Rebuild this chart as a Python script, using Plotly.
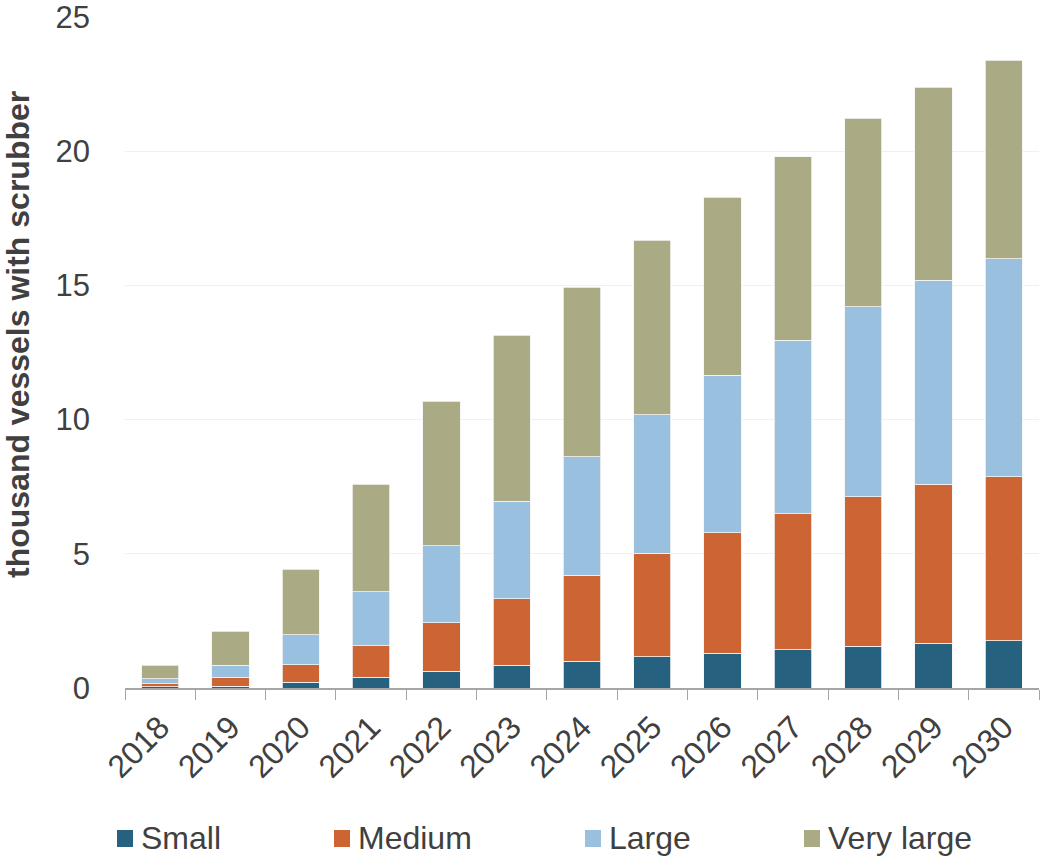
import plotly.graph_objects as go

# Fleet of ships fitted with exhaust gas scrubbers, thousand vessels, by size class
years = ["2018", "2019", "2020", "2021", "2022", "2023", "2024",
         "2025", "2026", "2027", "2028", "2029", "2030"]
small = [0.04, 0.07, 0.21, 0.41, 0.62, 0.84, 0.99, 1.16, 1.30, 1.43, 1.55, 1.66, 1.76]
medium = [0.12, 0.33, 0.65, 1.17, 1.82, 2.49, 3.21, 3.86, 4.49, 5.06, 5.58, 5.93, 6.11]
large = [0.18, 0.44, 1.12, 2.00, 2.86, 3.63, 4.42, 5.17, 5.86, 6.47, 7.07, 7.60, 8.12]
very_large = [0.50, 1.27, 2.45, 4.01, 5.39, 6.19, 6.31, 6.50, 6.64, 6.84, 7.02, 7.19, 7.40]

series_names = ["Small", "Medium", "Large", "Very large"]
series_values = [small, medium, large, very_large]
series_colors = ["#26617F", "#CD6434", "#9AC0E0", "#AAAA84"]

y_ticks = [0, 5, 10, 15, 20, 25]

FONT = "Liberation Sans, Arial, sans-serif"
TEXT_COLOR = "#404040"

W, H = 1040, 856
M_L, M_R, M_T, M_B = 125, 1, 17, 168
PLOT_W = W - M_L - M_R
PLOT_H = H - M_T - M_B


def px_to_paper(px, py):
    return (px - M_L) / PLOT_W, (H - M_B - py) / PLOT_H


fig = go.Figure()
for name, vals, color in zip(series_names, series_values, series_colors):
    fig.add_trace(go.Bar(
        x=years, y=vals, name=name,
        marker=dict(color=color, line=dict(color="#F4F4F4", width=0.8)),
        showlegend=False,
    ))

# Legend drawn as swatches plus labels along the bottom
legend_swatch_x = [117, 334, 585, 804]
for name, color, sx in zip(series_names, series_colors, legend_swatch_x):
    x0, y0 = px_to_paper(sx, 847)
    x1, y1 = px_to_paper(sx + 16, 830)
    fig.add_shape(type="rect", xref="paper", yref="paper",
                  x0=x0, x1=x1, y0=y0, y1=y1,
                  fillcolor=color, line=dict(width=0))
    tx, ty = px_to_paper(sx + 22, 838)
    fig.add_annotation(xref="paper", yref="paper", x=tx, y=ty,
                       text=name, showarrow=False,
                       xanchor="left", yanchor="middle",
                       font=dict(family=FONT, size=32, color=TEXT_COLOR))

# Y axis title
tx, ty = px_to_paper(18, 335)
fig.add_annotation(xref="paper", yref="paper", x=tx, y=ty,
                   text="<b>thousand vessels with scrubber</b>",
                   textangle=-90, showarrow=False,
                   xanchor="center", yanchor="middle",
                   font=dict(family=FONT, size=32, color=TEXT_COLOR))

fig.update_layout(
    barmode="stack",
    bargap=0.47,
    width=W, height=H,
    margin=dict(l=M_L, r=M_R, t=M_T, b=M_B),
    paper_bgcolor="white",
    plot_bgcolor="white",
    font=dict(family=FONT, size=32, color=TEXT_COLOR),
    xaxis=dict(
        type="category",
        tickangle=-45,
        ticks="outside", tickson="boundaries",
        ticklen=10, tickwidth=1.2, tickcolor="#A6A6A6",
        showline=True, linecolor="#A6A6A6", linewidth=1.5,
        showgrid=False,
        ticklabelstandoff=6,
        tickfont=dict(family=FONT, size=32, color=TEXT_COLOR),
    ),
    yaxis=dict(
        range=[0, 25],
        tickvals=y_ticks,
        showgrid=True, gridcolor="#F0F0F0", gridwidth=1,
        zeroline=False, showline=False,
        ticks="", ticklabelstandoff=34,
        ticklabeloverflow="allow",
        tickfont=dict(family=FONT, size=31, color=TEXT_COLOR),
    ),
)

fig.write_html("out.html")
